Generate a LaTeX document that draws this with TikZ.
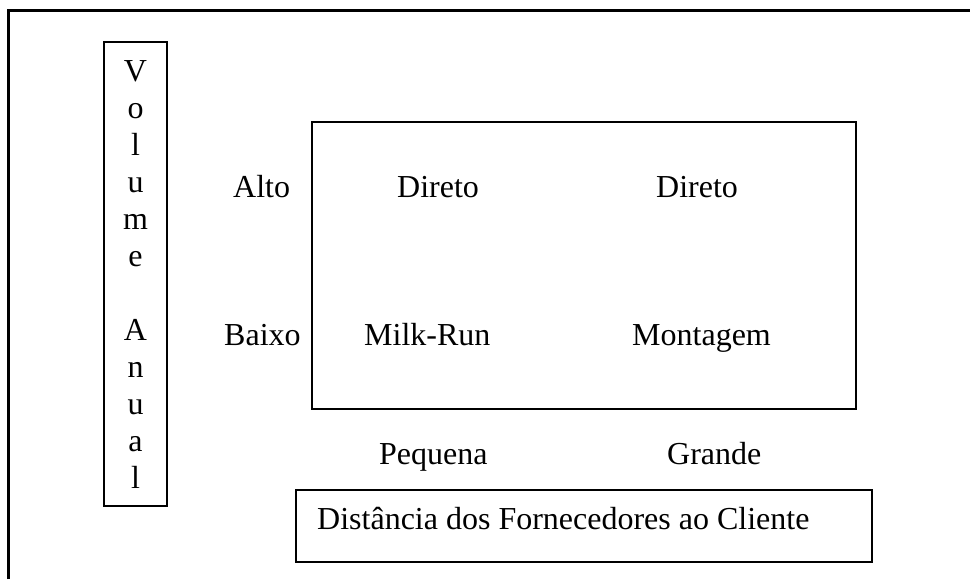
\documentclass[tikz,border=0pt]{standalone}
\usepackage{fontspec}
\setmainfont{Liberation Serif}
\usepackage{tikz}
\usetikzlibrary{positioning}

\begin{document}
\begin{tikzpicture}[x=1pt, y=-1pt,
    every node/.style={font=\fontsize{32}{37}\selectfont, inner sep=0pt},
    framebox/.style={draw, line width=2.4pt, minimum width=#1},
    word/.style={anchor=base west}]
  \useasboundingbox (0,0) rectangle (970,579);

  % page frame (only left and top edges visible)
  \draw[line width=3pt] (8,579) -- (8,10) -- (970,10);

  % vertical axis label
  \node [framebox=63pt, minimum height=464pt] (volbox) at (135.5,274) {};
  \node [anchor=north, align=center] (volume) at (135.5,60)
    {V\\o\\l\\u\\m\\e\\[37pt]A\\n\\u\\a\\l};

  % matrix box
  \node [framebox=544pt, minimum height=287pt] (matrixbox) at (584,265.5) {};

  \node [word] (alto) at (233,197) {Alto};
  \node [word] (baixo) at (224,345) {Baixo};

  \node [word] (diretoA) at (397,197) {Direto};
  \node [word] (diretoB) at (656,197) {Direto};
  \node [word] (milkrun) at (364,345) {Milk-Run};
  \node [word] (montagem) at (632,345) {Montagem};

  \node [word] (pequena) at (379,464) {Pequena};
  \node [word] (grande) at (667,464) {Grande};

  % horizontal axis label
  \node [framebox=576pt, minimum height=72pt] (distbox) at (584,526) {};
  \node [word] (distancia) at (317,529) {Distância dos Fornecedores ao Cliente};

\end{tikzpicture}
\end{document}
